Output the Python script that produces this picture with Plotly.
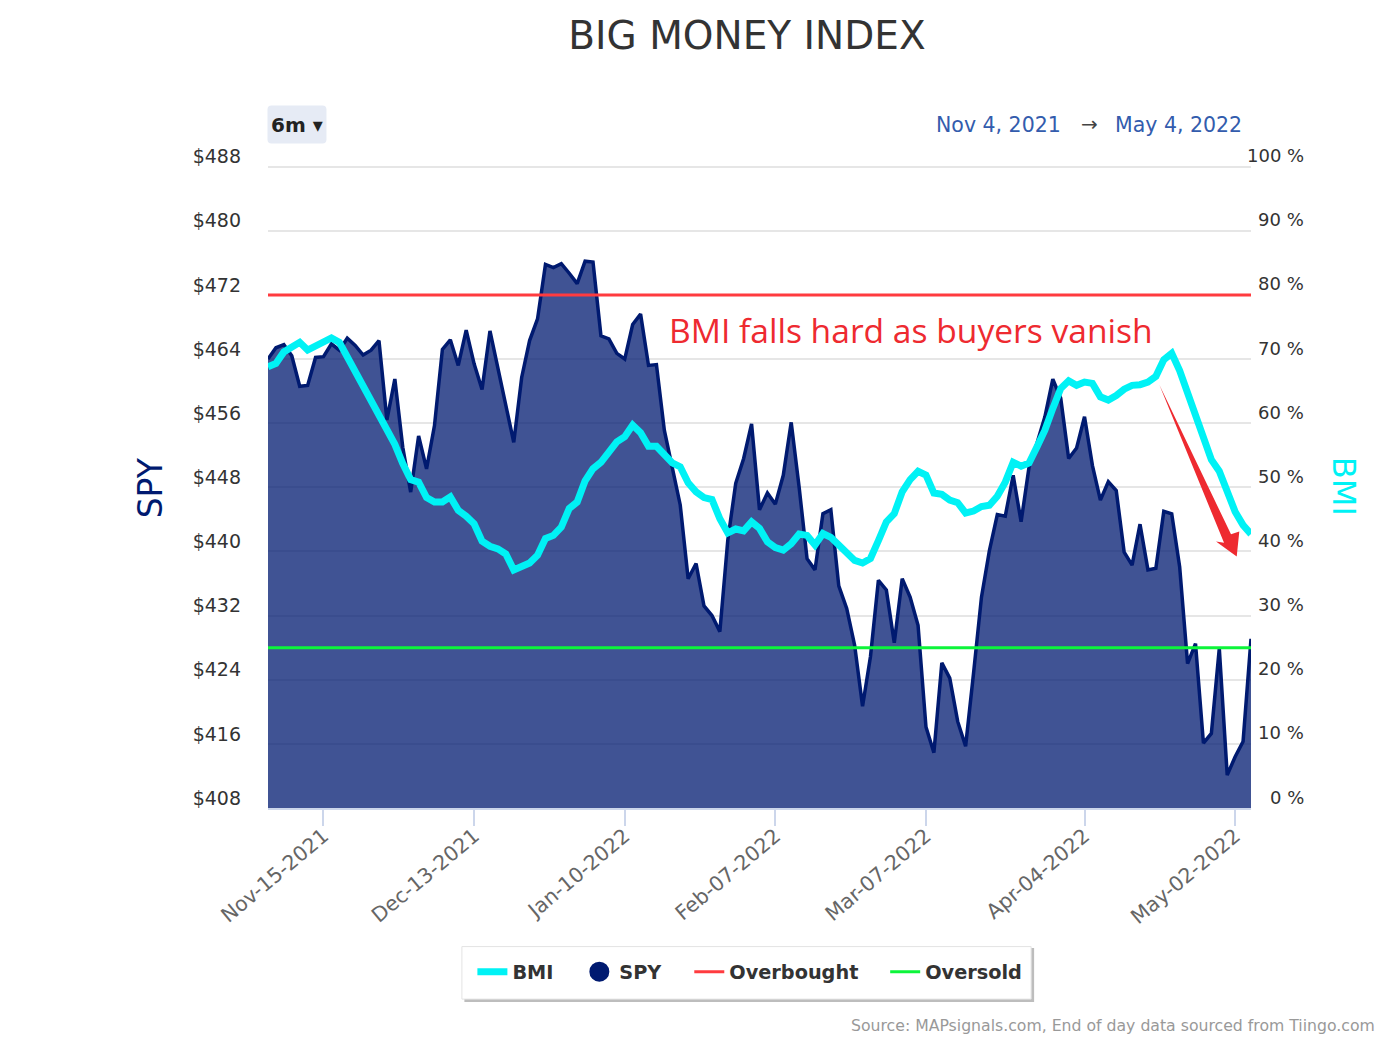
import pandas as pd
import plotly.graph_objects as go

HOLIDAYS = ["2021-11-25", "2021-12-24", "2022-01-17", "2022-02-21", "2022-04-15"]
trading_days = pd.bdate_range("2021-11-04", "2022-05-04").difference(pd.to_datetime(HOLIDAYS))
dates = [d.strftime("%b-%d-%Y") for d in trading_days]

spy = [464.0,465.4,465.8,464.4,460.6,460.7,464.2,464.3,465.9,465.1,466.6,465.7,464.5,465.1,466.3,456.4,461.5,453.0,447.4,454.4,
       450.3,455.7,465.2,466.4,463.2,467.6,463.4,460.2,467.5,463.0,458.2,453.6,461.7,466.3,469.0,475.8,475.4,475.9,474.7,473.4,
       476.2,476.1,466.9,466.5,464.7,464.0,468.3,469.6,463.2,463.3,455.1,450.3,445.8,436.6,438.5,433.2,432.0,430.0,441.4,448.5,
       451.6,455.9,445.2,447.3,445.9,449.5,456.1,448.0,439.1,437.7,444.7,445.2,435.7,432.9,428.3,420.7,426.9,436.4,435.2,428.6,
       436.6,434.3,430.8,418.1,414.9,426.1,424.2,418.8,415.7,424.8,434.3,440.1,444.6,444.4,449.5,443.7,450.5,453.5,456.8,461.5,
       459.1,451.6,452.9,456.8,450.7,446.4,448.7,447.6,439.9,438.3,443.4,437.7,437.9,445.0,444.7,438.1,426.0,428.5,416.1,417.3,
       427.9,412.1,414.4,416.3,429.1]
bmi = [68.8,69.3,71.1,72.0,72.6,71.4,72.0,72.6,73.3,72.6,70.3,68.0,65.6,63.3,61.2,58.6,56.7,53.7,51.2,50.8,
       48.4,47.7,47.7,48.5,46.4,45.5,44.3,41.6,40.8,40.4,39.6,37.1,37.6,38.2,39.4,42.0,42.5,43.8,46.7,47.7,
       51.0,52.9,53.9,55.7,57.1,57.9,59.7,58.5,56.4,56.4,55.0,53.8,53.2,50.7,49.3,48.4,48.1,45.1,42.9,43.5,
       43.2,44.6,43.6,41.5,40.6,40.2,41.2,42.7,42.5,41.0,42.8,42.2,41.0,39.9,38.6,38.2,38.9,41.7,44.6,45.9,
       49.3,51.2,52.5,51.9,49.1,48.9,48.0,47.6,46.0,46.3,47.0,47.2,48.6,50.8,53.9,53.3,53.8,56.3,58.9,62.3,
       65.4,66.6,65.9,66.4,66.2,64.1,63.6,64.3,65.3,65.9,66.0,66.4,67.3,69.9,70.9,68.2,64.6,61.7,58.1,54.3,
       52.5,49.5,46.2,44.1,42.7]
overbought = [80, 80]
oversold = [25, 25]
line_ends = [dates[0], dates[-1]]

x_ticks = ["Nov-15-2021", "Dec-13-2021", "Jan-10-2022", "Feb-07-2022", "Mar-07-2022", "Apr-04-2022", "May-02-2022"]
spy_ticks = [408, 416, 424, 432, 440, 448, 456, 464, 472, 480, 488]
spy_labels = [f"${v}" for v in spy_ticks]
bmi_ticks = [0, 10, 20, 30, 40, 50, 60, 70, 80, 90, 100]
bmi_labels = [f"{v} %" for v in bmi_ticks]

NAVY, CYAN, RED, GREEN = "#001a70", "#00f2f5", "#ff3b3f", "#0cf53a"
FONT = "DejaVu Sans"
W, H, OFF = 1372, 1027, 8
L, R, T, B = 267.5, 1251.0, 165.4, 808.0
def fx(px): return (px - L) / (R - L)
def fy(py): return (B - py) / (B - T)

def legend_box(text_start, center_y=972):
    return dict(x=fx(text_start - 41), y=fy(center_y), xanchor="left", yanchor="middle", bgcolor="rgba(0,0,0,0)",
                borderwidth=0, itemwidth=30, font=dict(family=FONT, size=19.3, color="#333333", weight="bold"))

fig = go.Figure()
fig.add_trace(go.Scatter(x=dates, y=spy, mode="lines", yaxis="y", showlegend=False, name="SPY",
                         line=dict(color=NAVY, width=3.5), fill="tozeroy", fillcolor="rgba(0,26,112,0.75)"))
fig.add_trace(go.Scatter(x=dates, y=bmi, mode="lines", yaxis="y2", name="BMI", legend="legend",
                         line=dict(color=CYAN, width=7)))
fig.add_trace(go.Scatter(x=[None], y=[None], mode="markers", yaxis="y", name="SPY", legend="legend2",
                         marker=dict(color=NAVY, size=16, line=dict(color=NAVY, width=4))))
fig.add_trace(go.Scatter(x=line_ends, y=overbought, mode="lines", yaxis="y2", name="Overbought", legend="legend3",
                         line=dict(color=RED, width=3)))
fig.add_trace(go.Scatter(x=line_ends, y=oversold, mode="lines", yaxis="y2", name="Oversold", legend="legend4",
                         line=dict(color=GREEN, width=3)))

annotations = [dict(xref="paper", yref="y2", x=fx(1306), y=v, yshift=11, text=t, showarrow=False, xanchor="right",
                    yanchor="middle", font=dict(family=FONT, size=18, color="#333333"))
               for v, t in zip(bmi_ticks, bmi_labels)]
annotations += [
    dict(xref="paper", yref="paper", x=fx(667), y=fy(330.5), text="BMI falls hard as buyers vanish", showarrow=False,
         xanchor="left", yanchor="middle", font=dict(family="Open Sans", size=33.6, color="#ee2a30")),
    dict(xref="paper", yref="paper", x=fx(297), y=fy(125), text="<b>6m ▾</b>", showarrow=False,
         xanchor="center", yanchor="middle", font=dict(family=FONT, size=20, color="#222222")),
    dict(xref="paper", yref="paper", x=fx(934), y=fy(125), text="Nov 4, 2021", showarrow=False,
         xanchor="left", yanchor="middle", font=dict(family=FONT, size=20.5, color="#335cad")),
    dict(xref="paper", yref="paper", x=fx(1089), y=fy(124), text="→", showarrow=False,
         xanchor="center", yanchor="middle", font=dict(family=FONT, size=20, color="#444444")),
    dict(xref="paper", yref="paper", x=fx(1244), y=fy(125), text="May 4, 2022", showarrow=False,
         xanchor="right", yanchor="middle", font=dict(family=FONT, size=20.5, color="#335cad")),
    dict(xref="paper", yref="paper", x=fx(1376), y=fy(1025.5), text="Source: MAPsignals.com, End of day data sourced from Tiingo.com",
         showarrow=False, xanchor="right", yanchor="middle", borderpad=0, font=dict(family=FONT, size=15.7, color="#999999")),
    dict(xref="paper", yref="paper", x=fx(150), y=fy(488), text="SPY", textangle=-90, showarrow=False,
         xanchor="center", yanchor="middle", font=dict(family=FONT, size=33, color=NAVY)),
    dict(xref="paper", yref="paper", x=fx(1344), y=fy(487), text="BMI", textangle=90, showarrow=False,
         xanchor="center", yanchor="middle", font=dict(family=FONT, size=32, color=CYAN)),
]

arrow_pts = [(1159.3, 385), (1231, 534.5), (1239.3, 531.7), (1236.7, 556.7), (1216, 541.7), (1224, 543)]
arrow_path = "M " + " L ".join(f"{fx(a):.5f} {fy(b):.5f}" for a, b in arrow_pts) + " Z"

def rounded(x0, x1, y0, y1, r):
    a, b, c, d = fx(x0), fx(x1), fy(y0), fy(y1)
    rx, ry = r / (R - L), r / (B - T)
    return (f"M {a+rx:.5f} {c:.5f} L {b-rx:.5f} {c:.5f} Q {b:.5f} {c:.5f} {b:.5f} {c-ry:.5f} "
            f"L {b:.5f} {d+ry:.5f} Q {b:.5f} {d:.5f} {b-rx:.5f} {d:.5f} L {a+rx:.5f} {d:.5f} "
            f"Q {a:.5f} {d:.5f} {a:.5f} {d+ry:.5f} L {a:.5f} {c-ry:.5f} Q {a:.5f} {c:.5f} {a+rx:.5f} {c:.5f} Z")

shapes = [
    dict(type="path", xref="paper", yref="paper", path=rounded(267, 326, 106, 144, 4), layer="below",
         fillcolor="#e6ebf5", line=dict(width=0)),
    dict(type="rect", xref="paper", yref="paper", x0=fx(464), x1=fx(1034), y0=fy(1002), y1=fy(948), layer="below",
         fillcolor="#bdbdbd", line=dict(width=0)),
    dict(type="rect", xref="paper", yref="paper", x0=fx(461.5), x1=fx(1031), y0=fy(999), y1=fy(946.5), layer="below",
         fillcolor="#ffffff", line=dict(color="#e3e3e3", width=1)),
    dict(type="path", xref="paper", yref="paper", path=arrow_path, fillcolor="#ee2a30", line=dict(width=0)),
]

fig.update_layout(
    width=W, height=H, paper_bgcolor="white", plot_bgcolor="white",
    margin=dict(l=L - OFF, r=W - (R - OFF), t=T - OFF, b=H - (B - OFF), autoexpand=False),
    title=dict(text="BIG MONEY INDEX", x=(747 - OFF) / W, y=1 - (35 - OFF) / H, xanchor="center", yanchor="middle",
               font=dict(family=FONT, size=39, color="#333333")),
    font=dict(family=FONT),
    xaxis=dict(type="category", categoryorder="array", categoryarray=dates, range=[0, len(dates) - 1],
               tickmode="array", tickvals=x_ticks, ticktext=x_ticks, tickangle=-40, showgrid=False,
               showline=True, linecolor="#ccd6eb", linewidth=2, ticks="outside", ticklen=16, tickwidth=2,
               tickcolor="#ccd6eb", tickfont=dict(family=FONT, size=20.5, color="#666666"), zeroline=False,
               ticklabelstandoff=-10),
    yaxis=dict(range=[408, 488.2], tickmode="array", tickvals=spy_ticks, ticktext=spy_labels, showgrid=True,
               gridcolor="#e6e6e6", gridwidth=2, zeroline=False, ticks="", ticklabelstandoff=26, ticklabelshift=-10,
               tickfont=dict(family=FONT, size=19, color="#333333")),
    yaxis2=dict(range=[0, 100.25], overlaying="y", side="right", showgrid=False, zeroline=False, showticklabels=False,
                tickmode="array", tickvals=bmi_ticks, ticks=""),
    legend=legend_box(513), legend2=legend_box(620), legend3=legend_box(730), legend4=legend_box(926),
    annotations=annotations, shapes=shapes,
)
fig.write_html("out.html")
